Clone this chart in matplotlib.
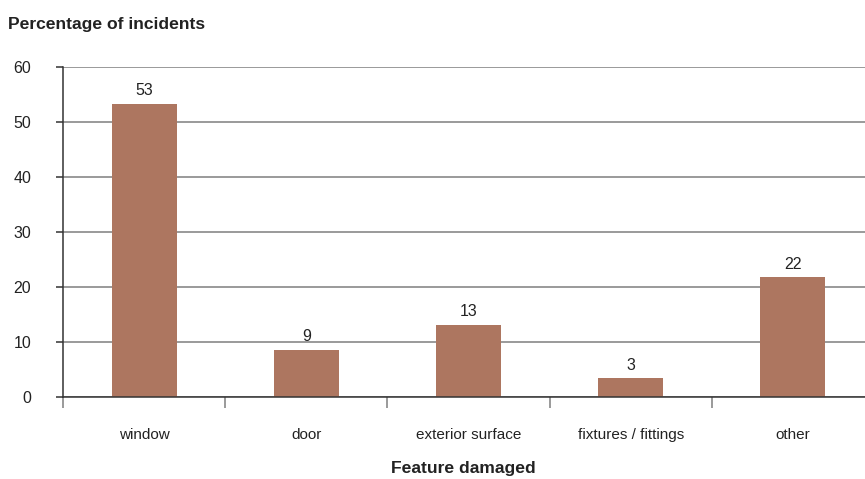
import matplotlib
matplotlib.use("Agg")
import matplotlib.pyplot as plt
from matplotlib import font_manager

# Feature damaged vs share of incidents (%)
categories = ["window", "door", "exterior surface", "fixtures / fittings", "other"]
percentages = [53.3, 8.6, 13.1, 3.4, 21.8]
y_ticks = [0, 10, 20, 30, 40, 50, 60]

names = {f.name for f in font_manager.fontManager.ttflist}
family = ["Liberation Sans Narrow", "Liberation Sans", "DejaVu Sans"]
family = [f for f in family if f in names] or ["DejaVu Sans"]
plt.rcParams["font.family"] = family

bar_color = "#ad7660"
grid_color = "#7f7f7f"
text_color = "#222222"

fig = plt.figure(figsize=(8.65, 4.79), dpi=100)
ax = fig.add_axes([63 / 865, 82 / 479, 1 - 63 / 865, 330 / 479])

x = list(range(len(categories)))
ax.bar(x, percentages, width=0.4, color=bar_color, zorder=3)

for xi, v in zip(x, percentages):
    ax.text(xi, v + 1.0, f"{v:.0f}", ha="center", va="bottom",
            fontsize=11.5, color=text_color)

ax.set_yticks(y_ticks)
ax.set_yticklabels([str(t) for t in y_ticks], fontsize=11.5, color=text_color)
ax.yaxis.grid(True, color=grid_color, linewidth=1.1, zorder=0)

# category ticks sit between the bars, labels centred under them
ax.set_xticks([i - 0.5 for i in range(len(categories) + 1)])
ax.set_xticklabels([])
ax.set_xticks(x, minor=True)
ax.set_xticklabels(categories, minor=True, fontsize=11, color=text_color)
ax.tick_params(axis="x", which="minor", length=0, pad=22)
ax.tick_params(axis="x", which="major", length=8, width=1.1, color=grid_color)
ax.tick_params(axis="y", length=5, width=1.1, color="#333333", pad=18)

# limits last so the tick calls don't widen the view
ax.set_ylim(0, 60)
ax.set_xlim(-0.5, -0.5 + 802 / 162.2)

for side in ["top", "right"]:
    ax.spines[side].set_visible(False)
ax.spines["left"].set_color("#333333")
ax.spines["left"].set_linewidth(1.1)
ax.spines["bottom"].set_color("#333333")
ax.spines["bottom"].set_linewidth(1.1)
ax.spines["bottom"].set_zorder(4)

fig.text(8 / 865, 1 - 24 / 479, "Percentage of incidents", fontsize=12.6,
         fontweight="bold", color=text_color, va="center", ha="left")
fig.text(463 / 865, 1 - 469 / 479, "Feature damaged", fontsize=12.6,
         fontweight="bold", color=text_color, va="center", ha="center")

fig.savefig("out.png", dpi=100)
